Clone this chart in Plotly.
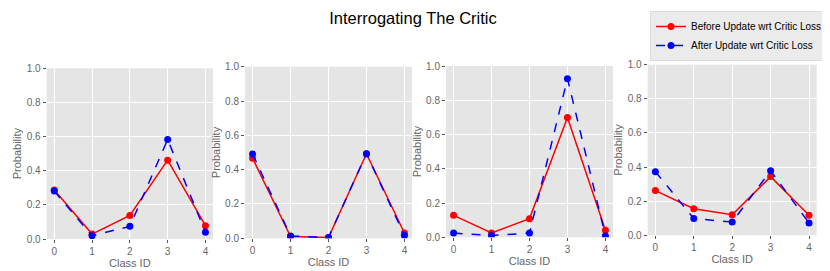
import plotly.graph_objects as go

class_ids = [0, 1, 2, 3, 4]
tick_labels = ["0", "1", "2", "3", "4"]

before_1 = [0.287, 0.029, 0.138, 0.462, 0.078]
after_1 = [0.281, 0.019, 0.074, 0.583, 0.039]
before_2 = [0.466, 0.010, 0.004, 0.493, 0.031]
after_2 = [0.491, 0.014, 0.004, 0.493, 0.017]
before_3 = [0.128, 0.025, 0.109, 0.700, 0.041]
after_3 = [0.025, 0.010, 0.025, 0.926, 0.008]
before_4 = [0.262, 0.156, 0.121, 0.344, 0.117]
after_4 = [0.373, 0.098, 0.078, 0.379, 0.072]

before_all = [before_1, before_2, before_3, before_4]
after_all = [after_1, after_2, after_3, after_4]

OFF = 8  # page body margin
W, H = 830 - OFF, 271 - OFF
# panel boxes in window pixels: (left, right, top, bottom)
boxes = [(46.7, 213, 68.3, 239), (245, 412, 66.7, 238.3),
         (446, 613, 66, 237.3), (647.7, 816.7, 64.7, 235.3)]

fig = go.Figure()
font = "Liberation Sans, Arial, sans-serif"
for i in range(4):
    sfx = "" if i == 0 else str(i + 1)
    fig.add_trace(go.Scatter(
        x=class_ids, y=before_all[i], mode="lines+markers",
        line=dict(color="red", width=1.5), marker=dict(color="red", size=7),
        name="Before Update wrt Critic Loss", showlegend=(i == 0),
        xaxis="x" + sfx, yaxis="y" + sfx))
    fig.add_trace(go.Scatter(
        x=class_ids, y=after_all[i], mode="lines+markers",
        line=dict(color="blue", width=1.5, dash="dash"), marker=dict(color="blue", size=7),
        name="After Update wrt Critic Loss", showlegend=(i == 0),
        xaxis="x" + sfx, yaxis="y" + sfx))

layout = dict(
    width=W, height=H, margin=dict(l=0, r=0, t=0, b=0, autoexpand=False),
    paper_bgcolor="white", plot_bgcolor="#e5e5e5",
    font=dict(family=font, color="#555555", size=10),
    title=dict(text="Interrogating The Critic", x=(413 - OFF) / W, xanchor="center",
               y=1 - (18 - OFF) / H, yanchor="middle",
               font=dict(size=16.5, color="black", family=font)),
    legend=dict(x=(650 - OFF) / W, y=1 - (11 - OFF) / H, xanchor="left", yanchor="top",
                bgcolor="#ebebeb", bordercolor="#dddddd", borderwidth=1,
                font=dict(size=10, color="black", family=font),
                tracegroupgap=0, itemwidth=30),
)
for i, (l, r, t, b) in enumerate(boxes):
    sfx = "" if i == 0 else str(i + 1)
    layout["xaxis" + sfx] = dict(
        domain=[(l - OFF) / W, (r - OFF) / W], range=[-0.2, 4.2], anchor="y" + sfx,
        tickvals=class_ids, ticktext=tick_labels, automargin=False,
        showgrid=True, gridcolor="white", gridwidth=1, zeroline=False,
        ticks="outside", ticklen=3, tickcolor="#555555",
        tickfont=dict(size=10, color="#666666"),
        title=dict(text="Class ID", font=dict(size=11, color="#666666"), standoff=2))
    layout["yaxis" + sfx] = dict(
        domain=[1 - (b - OFF) / H, 1 - (t - OFF) / H], range=[0, 1], anchor="x" + sfx,
        tickvals=[0, 0.2, 0.4, 0.6, 0.8, 1.0], automargin=False,
        ticktext=["0.0", "0.2", "0.4", "0.6", "0.8", "1.0"],
        showgrid=True, gridcolor="white", gridwidth=1, zeroline=False,
        ticks="outside", ticklen=3, tickcolor="#555555",
        tickfont=dict(size=10, color="#666666"),
        title=dict(text="Probability", font=dict(size=11, color="#666666"), standoff=2))
fig.update_layout(**layout)
fig.write_html("out.html")
